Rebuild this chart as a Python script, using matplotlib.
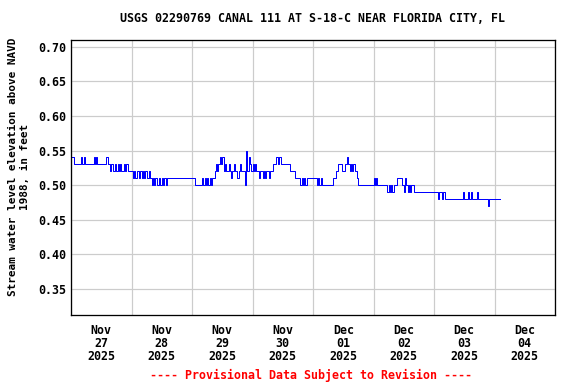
import numpy as np
import pandas as pd
import matplotlib
matplotlib.use('Agg')
import matplotlib.pyplot as plt
import matplotlib.dates as mdates

# stage readings, hundredths of a foot, 30-minute steps starting Nov 27 00:00
nov27 = [54, 54, 53, 53, 53, 53, 53, 53, 54, 53, 54, 53, 53, 53, 53, 53,
         53, 53, 54, 53, 54, 53, 53, 53, 53, 53, 53, 53, 54, 53, 53, 52,
         53, 52, 52, 53, 52, 53, 52, 53, 52, 52, 53, 52, 53, 52, 52, 52]
nov28 = [52, 51, 52, 51, 52, 52, 51, 52, 51, 52, 51, 52, 51, 51, 52, 51,
         50, 51, 50, 51, 50, 50, 51, 50, 51, 50, 51, 50, 51, 51, 51, 51,
         51, 51, 51, 51, 51, 51, 51, 51, 51, 51, 51, 51, 51, 51, 51, 51]
nov29 = [51, 51, 50, 50, 50, 50, 50, 50, 51, 50, 51, 50, 51, 50, 51, 50,
         51, 51, 52, 53, 52, 53, 54, 53, 54, 52, 53, 52, 52, 53, 52, 51,
         52, 53, 52, 52, 51, 52, 53, 52, 52, 52, 50, 55, 52, 54, 53, 52]
nov30 = [53, 52, 53, 52, 52, 51, 52, 52, 51, 52, 51, 52, 52, 51, 52, 52,
         53, 53, 53, 54, 53, 54, 54, 53, 53, 53, 53, 53, 53, 53, 52, 52,
         52, 52, 51, 51, 51, 51, 50, 51, 50, 51, 50, 51, 51, 51, 51, 51]
dec01 = [51, 51, 51, 50, 51, 50, 51, 50, 50, 50, 50, 50, 50, 50, 50, 50,
         51, 51, 52, 52, 53, 53, 53, 52, 52, 53, 53, 54, 53, 52, 53, 52,
         53, 52, 52, 51, 50, 50, 50, 50, 50, 50, 50, 50, 50, 50, 50, 50]
dec02 = [51, 50, 51, 50, 50, 50, 50, 50, 50, 50, 50, 49, 50, 49, 50, 49,
         50, 50, 50, 51, 51, 51, 51, 50, 49, 51, 50, 49, 50, 49, 50, 50,
         49, 49, 49, 49, 49, 49, 49, 49, 49, 49, 49, 49, 49, 49, 49, 49]
dec03 = [49, 49, 49, 48, 49, 49, 48, 49, 49, 48, 48, 48, 48, 48, 48, 48,
         48, 48, 48, 48, 48, 48, 48, 49, 48, 48, 48, 49, 48, 49, 48, 48,
         48, 48, 49, 48, 48, 48, 48, 48, 48, 48, 48, 47, 48, 48, 48, 48]
dec04 = [48, 48, 48, 48, 48]

day_labels = ['Nov\n27\n2025', 'Nov\n28\n2025', 'Nov\n29\n2025', 'Nov\n30\n2025',
              'Dec\n01\n2025', 'Dec\n02\n2025', 'Dec\n03\n2025', 'Dec\n04\n2025']
y_ticks = [0.35, 0.40, 0.45, 0.50, 0.55, 0.60, 0.65, 0.70]

stage = np.array(nov27 + nov28 + nov29 + nov30 + dec01 + dec02 + dec03 + dec04) / 100.0
times = pd.date_range('2025-11-27 00:00', periods=len(stage), freq='30min')

plt.rcParams['font.family'] = ['DejaVu Sans Mono']
plt.rcParams['font.weight'] = 'bold'
fs = 11.6

fig = plt.figure(figsize=(8, 384 / 72), dpi=72)
ax = fig.add_axes([71 / 576, 1 - 315 / 384, 484 / 576, 275 / 384])

ax.plot(times, stage, color='#0000ff', linewidth=1.0, drawstyle='steps-post')

start = pd.Timestamp('2025-11-27')
end = pd.Timestamp('2025-12-05')
ax.set_xlim(start, end)
ax.set_ylim(0.312, 0.710)

midnights = pd.date_range(start, end, freq='1D')
noons = midnights[:-1] + pd.Timedelta(hours=12)
ax.set_xticks(mdates.date2num(midnights))
ax.set_xticklabels([])
ax.set_xticks(mdates.date2num(noons), minor=True)
ax.set_xticklabels(day_labels, minor=True, fontsize=fs, fontweight='bold',
                   linespacing=1.0)
ax.tick_params(axis='x', which='both', length=0, pad=9)

ax.set_yticks(y_ticks)
ax.set_yticklabels(['%.2f' % v for v in y_ticks], fontsize=fs, fontweight='bold')
ax.tick_params(axis='y', length=0, pad=5)

ax.grid(True, which='major', color='#cccccc', linewidth=1.2)
ax.set_axisbelow(True)
for sp in ax.spines.values():
    sp.set_linewidth(1.3)

fig.text(313 / 576, 1 - 19 / 384, 'USGS 02290769 CANAL 111 AT S-18-C NEAR FLORIDA CITY, FL',
         ha='center', va='center', fontsize=fs, fontweight='bold')
fig.text(19 / 576, 1 - 167 / 384, 'Stream water level elevation above NAVD\n1988, in feet',
         ha='center', va='center', rotation=90, fontsize=fs * 0.95, fontweight='bold',
         multialignment='center', linespacing=1.25)
fig.text(311 / 576, 1 - 375 / 384, '---- Provisional Data Subject to Revision ----',
         ha='center', va='center', fontsize=fs, fontweight='bold', color='red')

fig.savefig('out.png', dpi=72)
